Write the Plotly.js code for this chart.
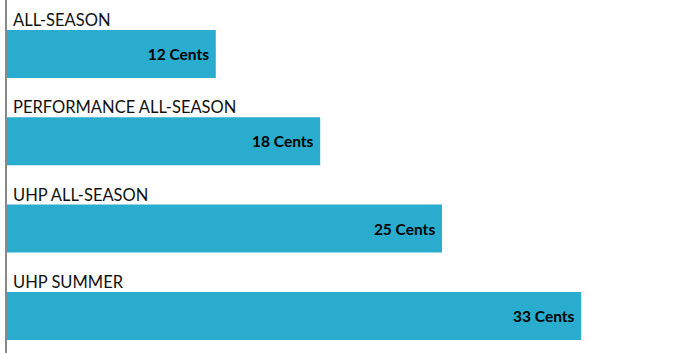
<!DOCTYPE html>
<html>
<head>
<meta charset="utf-8">
<script src="https://cdn.plot.ly/plotly-3.0.1.min.js"></script>
<style>html,body{margin:0;padding:0;background:#fff;}#chart{width:700px;height:353px;}</style>
</head>
<body>
<div id="chart"></div>
<script>
const categories = ["ALL-SEASON", "PERFORMANCE ALL-SEASON", "UHP ALL-SEASON", "UHP SUMMER"];
const values = [12, 18, 25, 33];
const unitLabel = "Cents";

const trace = {
  type: "bar",
  orientation: "h",
  y: categories,
  x: values,
  marker: {color: "#2aacce"},
  text: values.map(v => v + " " + unitLabel + "\u00a0"),
  textposition: "inside",
  insidetextanchor: "end",
  textfont: {family: "Lato, sans-serif", size: 15.5, color: "#000", weight: "bold"},
  hoverinfo: "none",
  cliponaxis: false
};

const annotations = categories.map(c => ({
  x: 0, y: c, xref: "x", yref: "y",
  text: c, showarrow: false,
  xanchor: "left", yanchor: "bottom",
  xshift: 4, yshift: 22,
  font: {family: "Lato, sans-serif", size: 16.5, color: "#111"}
}));

const layout = {
  width: 700, height: 353,
  margin: {l: 7, r: 0, t: 0, b: 0},
  paper_bgcolor: "#fff", plot_bgcolor: "#fff",
  bargap: 0.45,
  showlegend: false,
  xaxis: {range: [0, 39.83], showgrid: false, zeroline: false, showticklabels: false, showline: false},
  yaxis: {type: "category", range: [3.425, -0.619], showgrid: false, zeroline: false,
          showticklabels: false, showline: true, linecolor: "#888", linewidth: 2, ticks: ""},
  annotations: annotations
};

Plotly.newPlot("chart", [trace], layout, {displayModeBar: false, staticPlot: true});
</script>
</body>
</html>
